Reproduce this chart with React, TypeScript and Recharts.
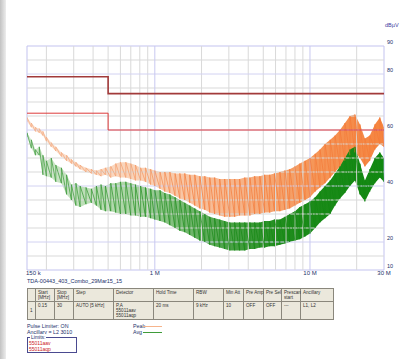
import React from "react";
import { ComposedChart, Line, Area, XAxis, YAxis, ReferenceLine, ReferenceArea } from "recharts";

// frequency points (MHz) the traces are read at
const FREQ = [
  0.15, 0.16, 0.17, 0.18, 0.19, 0.2, 0.215, 0.23, 0.25, 0.27,
  0.29, 0.31, 0.33, 0.36, 0.39, 0.42, 0.45, 0.48, 0.52, 0.56,
  0.6, 0.65, 0.7, 0.75, 0.81, 0.87, 0.94, 1.0, 1.08, 1.16,
  1.25, 1.35, 1.45, 1.56, 1.68, 1.81, 1.95, 2.1, 2.26, 2.43,
  2.62, 2.82, 3.04, 3.27, 3.52, 3.8, 4.1, 4.4, 4.75, 5.1,
  5.5, 5.9, 6.4, 6.9, 7.4, 8.0, 8.6, 9.3, 10.0, 10.8,
  11.6, 12.5, 13.5, 14.5, 15.6, 16.8, 18.1, 19.5, 21.0, 22.6,
  24.3, 26.2, 28.2, 30.0,
];

// peak trace, upper / lower edge of the noise (dBµV)
const PEAK_HI = [
  64.5, 62.5, 61, 60.5, 59.5, 57.5, 55.5, 54, 52, 51,
  49.5, 48.5, 47.5, 46.5, 46, 45.5, 46, 46.5, 47, 48,
  48.5, 48.5, 48, 47.5, 46.5, 46.5, 46, 45.5, 45, 45,
  45, 44.5, 44.5, 44.5, 44, 44, 43.5, 43.5, 43, 43,
  42.5, 42.5, 42.5, 42.5, 42.5, 43, 43, 43.5, 43.5, 44,
  44, 44.5, 45, 45.5, 46, 47, 48, 49, 50, 51.5,
  53, 55, 56.5, 58, 60, 62.5, 65, 65.5, 62, 57,
  58, 62, 64.5, 61,
];
const PEAK_LO = [
  63, 61, 59.5, 59, 58, 56, 54, 52.5, 50.5, 49,
  48, 47, 46, 45, 44.5, 44, 43.5, 44, 43, 43.5,
  43, 43, 42.5, 42, 42, 41.5, 40.5, 40, 39, 38,
  37.5, 36.5, 35.5, 35, 34, 33, 32, 31.5, 30.5, 30,
  29.5, 29, 29, 29, 29.5, 29.5, 29.5, 30, 30, 30.5,
  30.5, 31, 31, 31.5, 32, 33, 34, 35, 36, 38,
  39.5, 41, 43, 45, 47, 49, 51, 52, 50, 47,
  49, 53, 55, 54,
];

// average trace
const AVG_HI = [
  59, 56.5, 53, 54, 51, 49, 50, 47.5, 46.5, 44,
  40.5, 41, 40, 39.5, 39, 40, 40.5, 40, 41, 41,
  41.5, 41.5, 41, 40.5, 40, 39.5, 39, 38.5, 38.5, 37.5,
  37, 36, 35, 34, 33, 32, 31, 30, 29, 28.5,
  28, 27.5, 27, 27, 27, 27, 27, 27, 27, 27.5,
  27.5, 28, 28, 29, 30, 31, 32.5, 33.5, 34.5, 36,
  38, 40, 42, 44.5, 47, 50, 53, 54, 48, 42,
  46, 50, 52, 50,
];
const AVG_LO = [
  57.5, 53.5, 51, 51, 44, 43.5, 43, 41.5, 41, 37,
  35, 33, 32.5, 33.5, 34, 33, 31.5, 31, 31, 30.5,
  30, 30, 29.5, 29.5, 29, 29, 28.5, 28, 27.5, 27,
  26, 25, 24, 23.5, 22.5, 21.5, 20.5, 20, 19, 18.5,
  18, 17.5, 17, 17, 17, 17, 17.5, 17.5, 18, 18,
  18.5, 18.5, 19, 19.5, 20, 20.5, 21, 22, 23, 25,
  27, 28.5, 30, 33, 35.5, 37.5, 40, 42, 37, 34.5,
  38, 41, 43, 41.5,
];

// limit lines
const LIMIT_FREQ = [0.15, 0.5, 0.5, 30];
const QP_LIMIT = [79, 79, 73, 73];
const AV_LIMIT = [66, 66, 60, 60];

const X_TICKS = [0.15, 1, 10, 30];
const X_TICK_LABELS = ["150 k", "1 M", "10 M", "30 M"];
const Y_TICKS = [10, 20, 40, 60, 80, 90];

const GRID_F_MINOR = [0.2, 0.3, 0.4, 0.5, 0.6, 0.7, 0.8, 0.9, 2, 3, 4, 5, 6, 7, 8, 9, 20];
const GRID_F_MAJOR = [1, 10];
const GRID_DB_MINOR = [15, 25, 30, 35, 45, 50, 55, 65, 70, 75, 85];
const GRID_DB_MAJOR = [20, 40, 60, 80];

const TABLE_HEAD = ["", "Start\n[MHz]", "Stop\n[MHz]", "Step", "Detector", "Hold Time", "RBW", "Min Att", "Pre Amp", "Pre Sel", "Prescan\nstart", "Ancillary"];
const TABLE_ROW = ["1", "0.15", "30", "AUTO [5 kHz]", "P,A\n55011aav\n55011aqp", "20 ms", "9 kHz", "10", "OFF", "OFF", "---", "L1, L2"];
const COL_W = [8, 19, 19, 40, 40, 40, 30, 20, 20, 18, 19, 33];

const FONT = "'Liberation Sans', Arial, sans-serif";
const NAVY = "#22306a";

const zig = (lo: number[], hi: number[]) =>
  FREQ.flatMap((f, i) => [{ f, v: lo[i] }, { f, v: hi[i] }]);
const band = (lo: number[], hi: number[]) => FREQ.map((f, i) => ({ f, band: [lo[i], hi[i]] }));
const limit = (vals: number[]) => LIMIT_FREQ.map((f, i) => ({ f, v: vals[i] }));

const peakZig = zig(PEAK_LO, PEAK_HI);
const avgZig = zig(AVG_LO, AVG_HI);
const peakBand = band(PEAK_LO, PEAK_HI);
const avgBand = band(AVG_LO, AVG_HI);

function XTick(props: any) {
  const { x, y, payload } = props;
  const i = X_TICKS.indexOf(payload.value);
  return (
    <text x={i === 0 ? x - 1 : x} y={y} dy={5} fontSize={6} fill={NAVY} fontFamily={FONT} textAnchor={i === 0 ? "start" : "middle"}>
      {X_TICK_LABELS[i]}
    </text>
  );
}

function YTick(props: any) {
  const { x, y, payload } = props;
  return (
    <text x={x} y={y - 4} dy="0.35em" fontSize={5.5} fill={NAVY} fontFamily={FONT} textAnchor="start">
      {payload.value}
    </text>
  );
}

const cell: React.CSSProperties = {
  border: "1px solid #8a877c",
  padding: "1px 2px",
  verticalAlign: "top",
  whiteSpace: "pre",
  fontSize: 4.6,
  lineHeight: "5px",
  color: "#333",
};

export default function App() {
  return (
    <div style={{ position: "fixed", left: 0, top: 0, width: 412, height: 359, background: "#fff", overflow: "hidden", fontFamily: FONT }}>
      <div style={{ position: "absolute", left: 0, top: 0, width: 6, height: 359, background: "linear-gradient(to right, #c2c2c2, #ededed)" }} />
      <div style={{ position: "absolute", left: 0, top: 0 }}>
        <ComposedChart width={412} height={280} margin={{ top: 46, right: 0, bottom: 0, left: 27 }}>
          <defs>
            <linearGradient id="peakFill" x1="0" y1="0" x2="1" y2="0">
              <stop offset="0" stopColor="#fbe3d3" />
              <stop offset="0.35" stopColor="#f9d0b4" />
              <stop offset="0.6" stopColor="#f6b287" />
              <stop offset="0.78" stopColor="#f5995c" />
              <stop offset="1" stopColor="#f5843f" />
            </linearGradient>
            <linearGradient id="peakStroke" x1="0" y1="0" x2="1" y2="0">
              <stop offset="0" stopColor="#f4ab82" />
              <stop offset="0.3" stopColor="#f49a66" />
              <stop offset="0.45" stopColor="#f47a38" />
              <stop offset="1" stopColor="#f47a38" />
            </linearGradient>
            <linearGradient id="avgFill" x1="0" y1="0" x2="1" y2="0">
              <stop offset="0" stopColor="#d3e9cf" />
              <stop offset="0.3" stopColor="#a9d4a3" />
              <stop offset="0.55" stopColor="#4ea34a" />
              <stop offset="0.72" stopColor="#1f8c1c" />
              <stop offset="1" stopColor="#128812" />
            </linearGradient>
            <linearGradient id="avgStroke" x1="0" y1="0" x2="1" y2="0">
              <stop offset="0" stopColor="#3f9c3d" />
              <stop offset="0.4" stopColor="#1a8a18" />
              <stop offset="1" stopColor="#0e860e" />
            </linearGradient>
          </defs>
          <XAxis
            dataKey="f"
            type="number"
            scale="log"
            domain={[0.15, 30]}
            ticks={X_TICKS}
            interval={0}
            allowDataOverflow
            axisLine={false}
            tickLine={false}
            tickSize={0}
            tickMargin={0}
            height={10}
            tick={<XTick />}
          />
          <YAxis
            type="number"
            domain={[10, 90]}
            ticks={Y_TICKS}
            interval={0}
            allowDataOverflow
            orientation="right"
            width={28}
            axisLine={false}
            tickLine={false}
            tickSize={0}
            tickMargin={3}
            tick={<YTick />}
          />
          {GRID_DB_MINOR.map((v) => (
            <ReferenceLine key={"hm" + v} y={v} stroke="#d9d9d9" strokeWidth={1} />
          ))}
          {GRID_F_MINOR.map((f) => (
            <ReferenceLine key={"vm" + f} x={f} stroke="#d9d9d9" strokeWidth={1} />
          ))}
          {GRID_DB_MAJOR.map((v) => (
            <ReferenceLine key={"hM" + v} y={v} stroke="#d2d2f2" strokeWidth={1} />
          ))}
          {GRID_F_MAJOR.map((f) => (
            <ReferenceLine key={"vM" + f} x={f} stroke="#c8c8f0" strokeWidth={1} />
          ))}
          <Area data={peakBand} dataKey="band" type="linear" stroke="none" fill="url(#peakFill)" fillOpacity={1} isAnimationActive={false} />
          <Line data={peakZig} dataKey="v" type="linear" stroke="url(#peakStroke)" strokeWidth={0.7} dot={false} isAnimationActive={false} />
          <Area data={avgBand} dataKey="band" type="linear" stroke="none" fill="url(#avgFill)" fillOpacity={1} isAnimationActive={false} />
          <Line data={avgZig} dataKey="v" type="linear" stroke="url(#avgStroke)" strokeWidth={0.7} dot={false} isAnimationActive={false} />
          <Line data={limit(QP_LIMIT)} dataKey="v" type="linear" stroke="#a23a3a" strokeWidth={1.6} dot={false} isAnimationActive={false} />
          <Line data={limit(AV_LIMIT)} dataKey="v" type="linear" stroke="#dd3a3a" strokeWidth={1} dot={false} isAnimationActive={false} />
          <ReferenceArea x1={0.15} x2={30} y1={10} y2={90} fill="none" stroke="#c3c3ef" strokeWidth={1} />
        </ComposedChart>
      </div>

      <div style={{ position: "absolute", left: 385, top: 22, fontSize: 5.5, color: "#3a3aa0" }}>dBµV</div>

      <div style={{ position: "absolute", left: 27, top: 278, fontSize: 5.5, color: NAVY }}>TDA-00443_403_Combo_29Mar15_15</div>

      <table style={{ position: "absolute", left: 27, top: 288, width: 306, borderCollapse: "collapse", background: "#ebe8dc", border: "1px solid #6f6c63", tableLayout: "fixed" }}>
        <colgroup>
          {COL_W.map((w, i) => (
            <col key={i} style={{ width: w }} />
          ))}
        </colgroup>
        <tbody>
          <tr style={{ height: 13 }}>
            {TABLE_HEAD.map((t, i) => (
              <td key={i} style={cell}>{t}</td>
            ))}
          </tr>
          <tr style={{ height: 17 }}>
            {TABLE_ROW.map((t, i) => (
              <td key={i} style={{ ...cell, verticalAlign: i === 0 ? "middle" : "top" }}>{t}</td>
            ))}
          </tr>
        </tbody>
      </table>

      <div style={{ position: "absolute", left: 27, top: 323, fontSize: 5.3, lineHeight: "6px", color: NAVY }}>
        <div>Pulse Limiter: ON</div>
        <div>Ancillary = L2 3010</div>
      </div>

      <div style={{ position: "absolute", left: 133, top: 323, fontSize: 5.3, lineHeight: "6px", color: NAVY }}>
        <div style={{ display: "flex", alignItems: "center" }}>
          <span style={{ width: 8 }}>Peak</span>
          <span style={{ marginLeft: 2, width: 19, height: 1, background: "#f6b48c" }} />
        </div>
        <div style={{ display: "flex", alignItems: "center" }}>
          <span style={{ width: 8 }}>Avg</span>
          <span style={{ marginLeft: 2, width: 19, height: 1, background: "#3f9c3a" }} />
        </div>
      </div>

      <div style={{ position: "absolute", left: 27, top: 337, width: 48, height: 14, border: "1px solid #4a4a90" }}>
        <div style={{ position: "absolute", left: 2, top: -4, fontSize: 5, lineHeight: "6px", background: "#fff", color: NAVY, padding: "0 1px" }}>Limits:</div>
        <div style={{ position: "absolute", left: 1, top: 2, fontSize: 5, lineHeight: "6px", color: "#cc2222" }}>
          <div>55011aav</div>
          <div>55011aqp</div>
        </div>
      </div>
    </div>
  );
}
